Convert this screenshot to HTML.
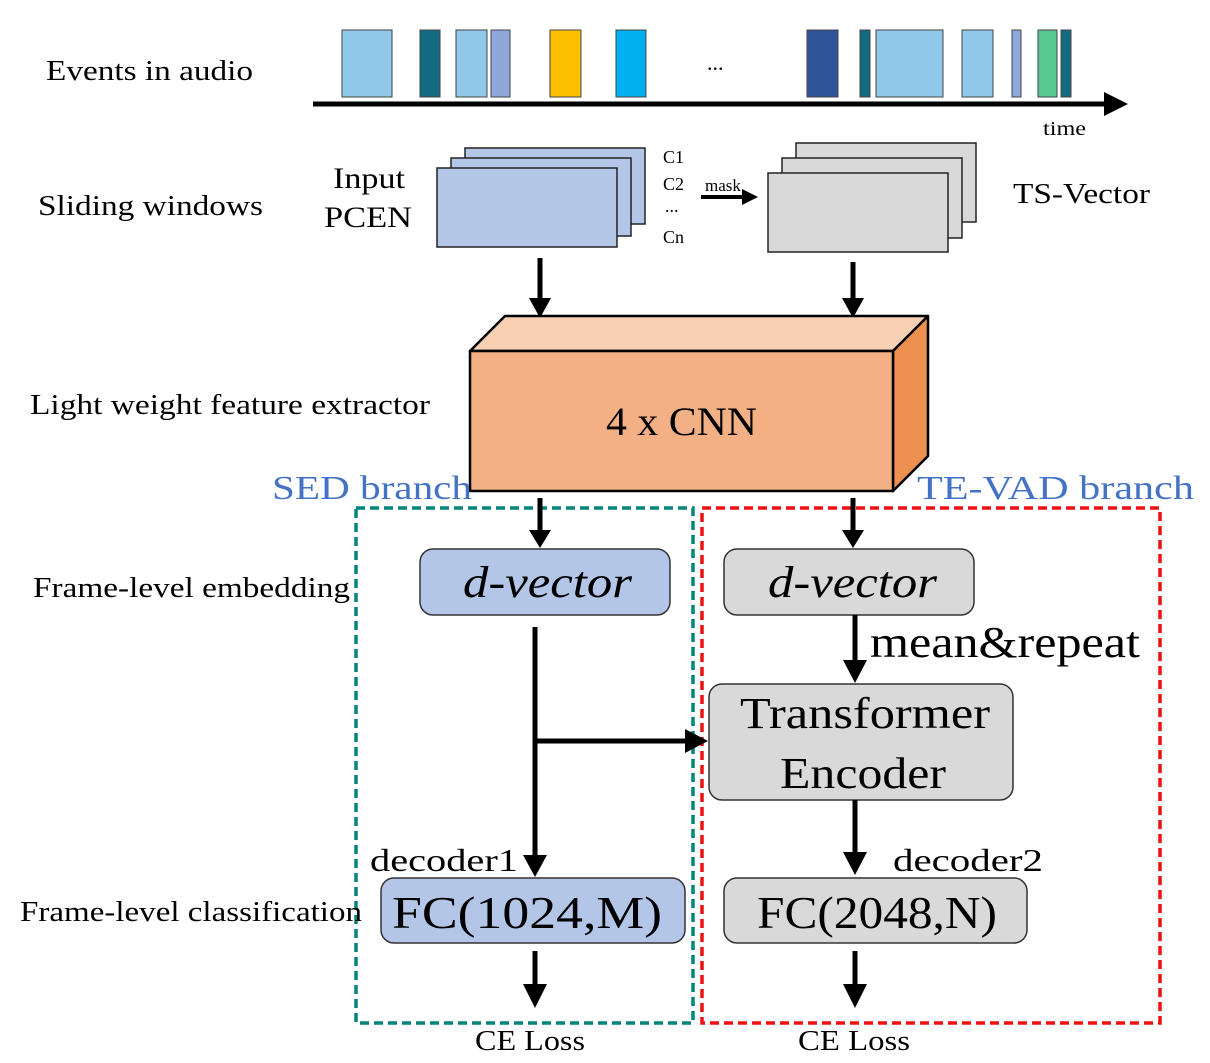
<!DOCTYPE html>
<html><head><style>html,body{margin:0;padding:0;background:#fff}svg{display:block}text{font-family:"Liberation Serif",serif;fill:#000}</style></head>
<body>
<svg width="1210" height="1063" viewBox="0 0 1210 1063" xmlns="http://www.w3.org/2000/svg">
<!-- events -->
<g stroke="#444" stroke-width="1">
<rect x="342" y="30" width="50" height="67" fill="#8fc8e8"/>
<rect x="420" y="30" width="20" height="67" fill="#146a82"/>
<rect x="456" y="30" width="31" height="67" fill="#8fc8e8"/>
<rect x="491" y="30" width="19" height="67" fill="#8fa8dc"/>
<rect x="550" y="30" width="31" height="67" fill="#fcc000"/>
<rect x="616" y="30" width="30" height="67" fill="#00b0f0"/>
<rect x="807" y="30" width="31" height="67" fill="#30549a"/>
<rect x="860" y="30" width="10" height="67" fill="#146a82"/>
<rect x="876" y="30" width="67" height="67" fill="#8fc8e8"/>
<rect x="962" y="30" width="31" height="67" fill="#8fc8e8"/>
<rect x="1012" y="30" width="9" height="67" fill="#8fa8dc"/>
<rect x="1038" y="30" width="19" height="67" fill="#56c890"/>
<rect x="1061" y="30" width="10" height="67" fill="#146a82"/>
</g>
<text x="707" y="70" font-size="22">...</text>
<line x1="313" y1="104" x2="1108" y2="104" stroke="#000" stroke-width="5"/>
<path d="M1104,92 L1128,104 L1104,116 z" fill="#000"/>
<text x="1043" y="135" font-size="20" textLength="43" lengthAdjust="spacingAndGlyphs">time</text>
<text x="46" y="80" font-size="29" textLength="207" lengthAdjust="spacingAndGlyphs">Events in audio</text>
<text x="38" y="215" font-size="29" textLength="225" lengthAdjust="spacingAndGlyphs">Sliding windows</text>
<text x="333" y="188" font-size="30" textLength="72" lengthAdjust="spacingAndGlyphs">Input</text>
<text x="324" y="227" font-size="30" textLength="88" lengthAdjust="spacingAndGlyphs">PCEN</text>
<!-- blue stack -->
<g stroke="#222" stroke-width="1.5" fill="#b4c6e8">
<rect x="465" y="148" width="180" height="76"/>
<rect x="451" y="158" width="180" height="78"/>
<rect x="437" y="168" width="180" height="79"/>
</g>
<text x="663" y="163" font-size="18">C1</text>
<text x="663" y="190" font-size="18">C2</text>
<text x="665" y="212" font-size="18">...</text>
<text x="663" y="243" font-size="18">Cn</text>
<text x="705" y="191" font-size="17">mask</text>
<line x1="701" y1="197" x2="745" y2="197" stroke="#000" stroke-width="4"/>
<path d="M742,189 L758,197 L742,205 z" fill="#000"/>
<g stroke="#222" stroke-width="1.5" fill="#d9d9d9">
<rect x="796" y="143" width="180" height="79"/>
<rect x="782" y="158" width="180" height="80"/>
<rect x="768" y="173" width="180" height="79"/>
</g>
<text x="1013" y="203" font-size="29" textLength="137" lengthAdjust="spacingAndGlyphs">TS-Vector</text>
<!-- arrows to CNN -->
<line x1="540" y1="258" x2="540" y2="302" stroke="#000" stroke-width="5"/>
<path d="M529,298 L551,298 L540,318 z" fill="#000"/>
<line x1="853" y1="262" x2="853" y2="302" stroke="#000" stroke-width="5"/>
<path d="M842,298 L864,298 L853,318 z" fill="#000"/>
<!-- cuboid -->
<g stroke="#000" stroke-width="2.5" stroke-linejoin="round">
<path d="M470,351 L505,316 L928,316 L893,351 z" fill="#f8d0b4"/>
<path d="M893,351 L928,316 L928,456 L893,491 z" fill="#ee9050"/>
<rect x="470" y="351" width="423" height="140" fill="#f2b084"/>
</g>
<text x="606" y="435" font-size="40" textLength="151" lengthAdjust="spacingAndGlyphs">4 x CNN</text>
<text x="30" y="414" font-size="28" textLength="400" lengthAdjust="spacingAndGlyphs">Light weight feature extractor</text>
<text x="272" y="499" font-size="34" style="fill:#4472c4" textLength="200" lengthAdjust="spacingAndGlyphs">SED branch</text>
<text x="917" y="499" font-size="34" style="fill:#4472c4" textLength="277" lengthAdjust="spacingAndGlyphs">TE-VAD branch</text>
<!-- dashed boxes -->
<rect x="356" y="508" width="337" height="515" fill="none" stroke="#00857a" stroke-width="3.5" stroke-dasharray="9,5"/>
<rect x="702" y="508" width="458" height="515" fill="none" stroke="#ee1111" stroke-width="3.5" stroke-dasharray="9,5"/>
<!-- arrows to d-vector -->
<line x1="540" y1="498" x2="540" y2="532" stroke="#000" stroke-width="5"/>
<path d="M529,530 L551,530 L540,548 z" fill="#000"/>
<line x1="853" y1="498" x2="853" y2="532" stroke="#000" stroke-width="5"/>
<path d="M842,530 L864,530 L853,548 z" fill="#000"/>
<!-- d-vector boxes -->
<rect x="420" y="549" width="250" height="66" rx="13" fill="#b4c6e8" stroke="#333" stroke-width="1.5"/>
<text x="463" y="597" font-size="44" font-style="italic" textLength="169" lengthAdjust="spacingAndGlyphs">d-vector</text>
<rect x="724" y="549" width="250" height="66" rx="13" fill="#d9d9d9" stroke="#333" stroke-width="1.5"/>
<text x="768" y="597" font-size="44" font-style="italic" textLength="169" lengthAdjust="spacingAndGlyphs">d-vector</text>
<text x="33" y="597" font-size="28" textLength="317" lengthAdjust="spacingAndGlyphs">Frame-level embedding</text>
<!-- left vertical -->
<line x1="535" y1="627" x2="535" y2="858" stroke="#000" stroke-width="5"/>
<path d="M523,855 L547,855 L535,877 z" fill="#000"/>
<line x1="535" y1="741" x2="688" y2="741" stroke="#000" stroke-width="5"/>
<path d="M685,729 L708,741 L685,753 z" fill="#000"/>
<!-- mean&repeat -->
<line x1="855" y1="615" x2="855" y2="663" stroke="#000" stroke-width="5"/>
<path d="M843,660 L867,660 L855,683 z" fill="#000"/>
<text x="870" y="657" font-size="44" textLength="270" lengthAdjust="spacingAndGlyphs">mean&amp;repeat</text>
<rect x="709" y="684" width="304" height="116" rx="13" fill="#d9d9d9" stroke="#333" stroke-width="1.5"/>
<text x="740" y="728" font-size="44" textLength="250" lengthAdjust="spacingAndGlyphs">Transformer</text>
<text x="780" y="788" font-size="44" textLength="166" lengthAdjust="spacingAndGlyphs">Encoder</text>
<line x1="855" y1="800" x2="855" y2="855" stroke="#000" stroke-width="5"/>
<path d="M843,852 L867,852 L855,875 z" fill="#000"/>
<text x="370" y="871" font-size="32" textLength="148" lengthAdjust="spacingAndGlyphs">decoder1</text>
<text x="893" y="871" font-size="32" textLength="150" lengthAdjust="spacingAndGlyphs">decoder2</text>
<!-- FC -->
<rect x="381" y="878" width="304" height="65" rx="13" fill="#b4c6e8" stroke="#333" stroke-width="1.5"/>
<text x="392" y="928" font-size="46" textLength="270" lengthAdjust="spacingAndGlyphs">FC(1024,M)</text>
<rect x="724" y="878" width="303" height="65" rx="13" fill="#d9d9d9" stroke="#333" stroke-width="1.5"/>
<text x="757" y="928" font-size="46" textLength="240" lengthAdjust="spacingAndGlyphs">FC(2048,N)</text>
<text x="20" y="921" font-size="28" textLength="342" lengthAdjust="spacingAndGlyphs">Frame-level classification</text>
<line x1="535" y1="951" x2="535" y2="987" stroke="#000" stroke-width="5"/>
<path d="M523,984 L547,984 L535,1008 z" fill="#000"/>
<line x1="855" y1="951" x2="855" y2="987" stroke="#000" stroke-width="5"/>
<path d="M843,984 L867,984 L855,1008 z" fill="#000"/>
<text x="475" y="1050" font-size="28" textLength="110" lengthAdjust="spacingAndGlyphs">CE Loss</text>
<text x="798" y="1050" font-size="28" textLength="112" lengthAdjust="spacingAndGlyphs">CE Loss</text>
</svg>
</body></html>
